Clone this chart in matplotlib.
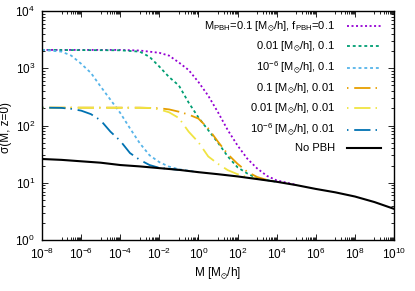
import numpy as np
import matplotlib
matplotlib.use("Agg")
import matplotlib.pyplot as plt
from matplotlib.ticker import FixedLocator, NullFormatter

plt.rcParams['font.family'] = ['Liberation Sans', 'DejaVu Sans']
plt.rcParams['mathtext.fontset'] = 'custom'
plt.rcParams['mathtext.rm'] = 'Liberation Sans'
plt.rcParams['mathtext.it'] = 'Liberation Sans'
plt.rcParams['mathtext.default'] = 'regular'

# ---- data ----
# No PBH
M_nopbh = [1e-8, 1e-7, 1e-6, 1e-5, 1e-4, 1e-3, 1e-2, 1e-1, 1e0, 1e1,
           1e2, 1e3, 1e4, 1e5, 1e6, 1e7, 1e8, 1e9, 1e10]
s_nopbh = [26.0, 25.1, 23.7, 22.4, 20.4, 19.3, 18.0, 16.8, 15.3, 14.1,
           12.9, 11.6, 10.4, 9.1, 7.8, 6.8, 5.75, 4.6, 3.5]

# M_PBH = 0.1, f_PBH = 0.1
M_a = [1e-8, 1e-4, 1e-3, 1e-2, 10**-1.5, 1e-1, 10**-0.5, 1e0, 10**0.5, 1e1,
       10**1.5, 1e2, 10**2.5, 1e3, 10**3.5, 1e4, 1e5]
s_a = [2090, 2090, 2040, 1860, 1660, 1260, 930, 575, 331, 170,
       83, 44.7, 26.3, 17.8, 13.2, 11.0, 9.2]

# M_PBH = 0.01, f_PBH = 0.1
M_b = [1e-8, 1e-4, 1e-3, 10**-2.5, 1e-2, 10**-1.5, 1e-1, 10**-0.5, 1e0, 10**0.5,
       1e1, 10**1.5, 1e2, 10**2.5, 1e3, 1e4]
s_b = [2090, 2060, 1950, 1580, 1070, 700, 500, 251, 138, 83,
       50, 28.8, 18.6, 14.5, 11.9, 10.4]

# M_PBH = 1e-6, f_PBH = 0.1
M_c = [1e-8, 1e-7, 10**-6.5, 1e-6, 10**-5.5, 1e-5, 10**-4.5, 1e-4, 10**-3.5, 1e-3,
       10**-2.5, 1e-2, 10**-1.5, 1e-1, 1e0]
s_c = [2090, 1950, 1660, 1200, 830, 479, 282, 166, 89, 49,
       30.2, 22.9, 19.1, 17.2, 15.3]

# M_PBH = 0.1, f_PBH = 0.01
M_d = [1e-8, 1e-3, 1e-2, 10**-1.5, 1e-1, 10**-0.5, 1e0, 10**0.5, 1e1, 10**1.5,
       1e2, 10**2.5, 1e3, 10**3.5, 1e4]
s_d = [205, 205, 200, 191, 174, 155, 132, 89, 52, 31.6,
       21.4, 15.5, 12.6, 11.2, 10.4]

# M_PBH = 0.01, f_PBH = 0.01
M_e = [1e-8, 10**-2.5, 1e-2, 10**-1.5, 1e-1, 10**-0.5, 1e0, 10**0.5, 1e1, 10**1.5,
       1e2, 10**2.5, 1e3]
s_e = [205, 203, 191, 170, 135, 78, 51, 28.8, 21.4, 16.6,
       14.1, 12.6, 11.7]

# M_PBH = 1e-6, f_PBH = 0.01
M_f = [1e-8, 1e-7, 10**-6.5, 1e-6, 10**-5.5, 1e-5, 10**-4.5, 1e-4, 10**-3.5, 1e-3,
       10**-2.5, 1e-2, 1e-1]
s_f = [205, 203, 195, 182, 158, 123, 78, 54, 33, 25.1,
       20.4, 18.2, 16.8]

labels = [r'M$_{PBH}$=0.1 [M$_{\odot}$/h], f$_{PBH}$=0.1',
          r'0.01 [M$_{\odot}$/h], 0.1',
          r'10$^{-6}$ [M$_{\odot}$/h], 0.1',
          r'0.1 [M$_{\odot}$/h], 0.01',
          r'0.01 [M$_{\odot}$/h], 0.01',
          r'10$^{-6}$ [M$_{\odot}$/h], 0.01',
          'No PBH']

fig = plt.figure(figsize=(4.15, 2.91), dpi=100)
ax = fig.add_axes([42/415, 1-240/291, 352/415, 229/291])

lw = 1.3
dot_a = (0, (1.1, 1.4))
dot_b = (0, (1.6, 1.6))
dashdot = (0, (0.8, 3.2, 9.0, 2.8))
ax.plot(M_a, s_a, color='#9400D3', lw=lw, ls=dot_a, label=labels[0])
ax.plot(M_b, s_b, color='#009E73', lw=lw, ls=dot_b, label=labels[1])
ax.plot(M_c, s_c, color='#56B4E9', lw=lw, ls=dot_b, label=labels[2])
ax.plot(M_d, s_d, color='#E69F00', lw=lw, ls=dashdot, label=labels[3])
ax.plot(M_e, s_e, color='#F0E442', lw=lw, ls=dashdot, label=labels[4])
ax.plot(M_f, s_f, color='#0072B2', lw=lw, ls=dashdot, label=labels[5])
ax.plot(M_nopbh, s_nopbh, color='black', lw=1.5, ls='-', label=labels[6])

ax.set_xscale('log')
ax.set_yscale('log')
ax.set_xlim(1e-8, 1e10)
ax.set_ylim(1, 1e4)

ax.xaxis.set_major_locator(FixedLocator(10.0**np.arange(-8, 11, 2)))
xminor = [k * 10.0**e for e in range(-7, 10, 2) for k in range(1, 10)]
ax.xaxis.set_minor_locator(FixedLocator(xminor))
ax.xaxis.set_minor_formatter(NullFormatter())
ax.yaxis.set_major_locator(FixedLocator(10.0**np.arange(0, 5)))
yminor = [k * 10.0**e for e in range(0, 4) for k in range(2, 10)]
ax.yaxis.set_minor_locator(FixedLocator(yminor))
ax.yaxis.set_minor_formatter(NullFormatter())

ax.tick_params(which='both', direction='in', top=True, right=True,
               labelsize=8.5, width=0.6)
ax.tick_params(which='major', length=4, pad=5)
ax.tick_params(which='minor', length=2)
for sp in ax.spines.values():
    sp.set_linewidth(1.0)

ax.set_xlabel(r'M [M$_{\odot}$/h]', fontsize=8.5, labelpad=2)
ax.set_ylabel(r'σ(M, z=0)', fontsize=8.5)
ax.yaxis.set_label_coords(-0.085, 0.49)

leg = ax.legend(loc='upper right', bbox_to_anchor=(0.962, 0.962), frameon=False,
                markerfirst=False, fontsize=8, handlelength=3.0,
                handletextpad=1.1, labelspacing=0.5, borderpad=0,
                borderaxespad=0)

fig.savefig('out.png', dpi=100)
